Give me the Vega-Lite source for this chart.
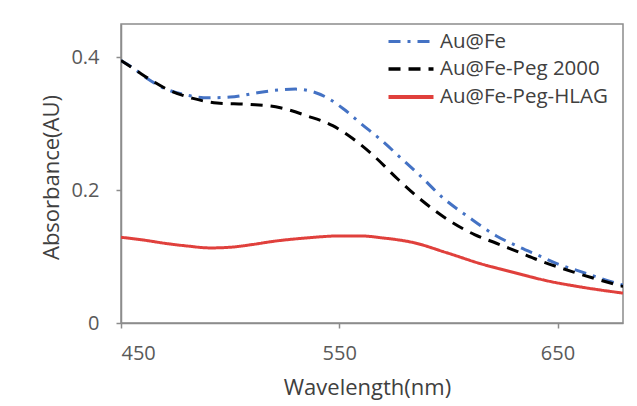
{
  "$schema": "https://vega.github.io/schema/vega-lite/v6.json",
  "width": 502,
  "height": 299,
  "autosize": "none",
  "padding": {"left": 121, "top": 24, "right": 14, "bottom": 83},
  "background": "white",
  "config": {
    "font": "Open Sans",
    "view": {"stroke": "#8c8c8c", "strokeWidth": 1.5},
    "axis": {
      "grid": false,
      "domainColor": "#8c8c8c",
      "domainWidth": 1.5,
      "tickColor": "#8c8c8c",
      "tickWidth": 1.5,
      "tickSize": 5,
      "labelColor": "#595959",
      "labelFontSize": 20,
      "labelFont": "Open Sans",
      "titleColor": "#404040",
      "titleFontSize": 22,
      "titleFont": "Open Sans",
      "titleFontWeight": "normal"
    },
    "legend": {
      "labelFont": "Open Sans",
      "labelFontSize": 20.5,
      "labelColor": "#404040",
      "labelLimit": 300
    }
  },
  "data": {
    "values": [
      {"wl": 450, "A": 0.395, "series": "Au@Fe"},
      {"wl": 455, "A": 0.385, "series": "Au@Fe"},
      {"wl": 462, "A": 0.368, "series": "Au@Fe"},
      {"wl": 470, "A": 0.353, "series": "Au@Fe"},
      {"wl": 480, "A": 0.343, "series": "Au@Fe"},
      {"wl": 490, "A": 0.339, "series": "Au@Fe"},
      {"wl": 500, "A": 0.340, "series": "Au@Fe"},
      {"wl": 510, "A": 0.345, "series": "Au@Fe"},
      {"wl": 520, "A": 0.350, "series": "Au@Fe"},
      {"wl": 530, "A": 0.352, "series": "Au@Fe"},
      {"wl": 538, "A": 0.348, "series": "Au@Fe"},
      {"wl": 545, "A": 0.338, "series": "Au@Fe"},
      {"wl": 552, "A": 0.322, "series": "Au@Fe"},
      {"wl": 560, "A": 0.300, "series": "Au@Fe"},
      {"wl": 570, "A": 0.273, "series": "Au@Fe"},
      {"wl": 578, "A": 0.249, "series": "Au@Fe"},
      {"wl": 586, "A": 0.225, "series": "Au@Fe"},
      {"wl": 598, "A": 0.187, "series": "Au@Fe"},
      {"wl": 609, "A": 0.160, "series": "Au@Fe"},
      {"wl": 622, "A": 0.131, "series": "Au@Fe"},
      {"wl": 632, "A": 0.115, "series": "Au@Fe"},
      {"wl": 641, "A": 0.102, "series": "Au@Fe"},
      {"wl": 650, "A": 0.089, "series": "Au@Fe"},
      {"wl": 661, "A": 0.077, "series": "Au@Fe"},
      {"wl": 670, "A": 0.067, "series": "Au@Fe"},
      {"wl": 680, "A": 0.057, "series": "Au@Fe"},
      {"wl": 450, "A": 0.395, "series": "Au@Fe-Peg 2000"},
      {"wl": 457, "A": 0.380, "series": "Au@Fe-Peg 2000"},
      {"wl": 464, "A": 0.365, "series": "Au@Fe-Peg 2000"},
      {"wl": 471, "A": 0.352, "series": "Au@Fe-Peg 2000"},
      {"wl": 483, "A": 0.338, "series": "Au@Fe-Peg 2000"},
      {"wl": 494, "A": 0.331, "series": "Au@Fe-Peg 2000"},
      {"wl": 509, "A": 0.329, "series": "Au@Fe-Peg 2000"},
      {"wl": 523, "A": 0.324, "series": "Au@Fe-Peg 2000"},
      {"wl": 535, "A": 0.312, "series": "Au@Fe-Peg 2000"},
      {"wl": 547, "A": 0.297, "series": "Au@Fe-Peg 2000"},
      {"wl": 556, "A": 0.278, "series": "Au@Fe-Peg 2000"},
      {"wl": 566, "A": 0.251, "series": "Au@Fe-Peg 2000"},
      {"wl": 577, "A": 0.216, "series": "Au@Fe-Peg 2000"},
      {"wl": 588, "A": 0.184, "series": "Au@Fe-Peg 2000"},
      {"wl": 600, "A": 0.155, "series": "Au@Fe-Peg 2000"},
      {"wl": 612, "A": 0.133, "series": "Au@Fe-Peg 2000"},
      {"wl": 622, "A": 0.120, "series": "Au@Fe-Peg 2000"},
      {"wl": 632, "A": 0.107, "series": "Au@Fe-Peg 2000"},
      {"wl": 641, "A": 0.095, "series": "Au@Fe-Peg 2000"},
      {"wl": 657, "A": 0.077, "series": "Au@Fe-Peg 2000"},
      {"wl": 668, "A": 0.066, "series": "Au@Fe-Peg 2000"},
      {"wl": 680, "A": 0.055, "series": "Au@Fe-Peg 2000"},
      {"wl": 450, "A": 0.129, "series": "Au@Fe-Peg-HLAG"},
      {"wl": 460, "A": 0.125, "series": "Au@Fe-Peg-HLAG"},
      {"wl": 470, "A": 0.120, "series": "Au@Fe-Peg-HLAG"},
      {"wl": 480, "A": 0.116, "series": "Au@Fe-Peg-HLAG"},
      {"wl": 491, "A": 0.113, "series": "Au@Fe-Peg-HLAG"},
      {"wl": 500, "A": 0.114, "series": "Au@Fe-Peg-HLAG"},
      {"wl": 510, "A": 0.118, "series": "Au@Fe-Peg-HLAG"},
      {"wl": 520, "A": 0.123, "series": "Au@Fe-Peg-HLAG"},
      {"wl": 535, "A": 0.128, "series": "Au@Fe-Peg-HLAG"},
      {"wl": 550, "A": 0.131, "series": "Au@Fe-Peg-HLAG"},
      {"wl": 560, "A": 0.131, "series": "Au@Fe-Peg-HLAG"},
      {"wl": 570, "A": 0.128, "series": "Au@Fe-Peg-HLAG"},
      {"wl": 584, "A": 0.121, "series": "Au@Fe-Peg-HLAG"},
      {"wl": 599, "A": 0.106, "series": "Au@Fe-Peg-HLAG"},
      {"wl": 615, "A": 0.089, "series": "Au@Fe-Peg-HLAG"},
      {"wl": 630, "A": 0.076, "series": "Au@Fe-Peg-HLAG"},
      {"wl": 646, "A": 0.063, "series": "Au@Fe-Peg-HLAG"},
      {"wl": 661, "A": 0.054, "series": "Au@Fe-Peg-HLAG"},
      {"wl": 680, "A": 0.045, "series": "Au@Fe-Peg-HLAG"}
    ]
  },
  "mark": {"type": "line", "interpolate": "monotone", "strokeWidth": 3, "clip": true},
  "encoding": {
    "x": {
      "field": "wl",
      "type": "quantitative",
      "scale": {"domain": [450, 680], "nice": false, "zero": false},
      "axis": {
        "values": [450, 550, 650],
        "title": "Wavelength(nm)",
        "labelPadding": 15,
        "titleX": 246,
        "titleY": 64,
        "titleBaseline": "middle",
        "titleAnchor": "middle"
      }
    },
    "y": {
      "field": "A",
      "type": "quantitative",
      "scale": {"domain": [0, 0.45], "nice": false},
      "axis": {
        "values": [0, 0.2, 0.4],
        "title": "Absorbance(AU)",
        "labelExpr": "datum.value == 0 ? '0' : format(datum.value, '.1f')",
        "labelPadding": 17,
        "titleX": -70,
        "titleY": 153,
        "titleAngle": -90,
        "titleBaseline": "middle",
        "titleAlign": "center"
      }
    },
    "color": {
      "field": "series",
      "type": "nominal",
      "scale": {
        "domain": ["Au@Fe", "Au@Fe-Peg 2000", "Au@Fe-Peg-HLAG"],
        "range": ["#4472c4", "#000000", "#e0403c"]
      },
      "legend": {
        "title": null,
        "orient": "none",
        "legendX": 273,
        "legendY": 1,
        "symbolType": "M-1.5,0H1.5",
        "symbolSize": 900,
        "symbolStrokeWidth": 3,
        "labelOffset": 12,
        "rowPadding": -2,
        "padding": 0
      }
    },
    "strokeDash": {
      "field": "series",
      "type": "nominal",
      "scale": {
        "domain": ["Au@Fe", "Au@Fe-Peg 2000", "Au@Fe-Peg-HLAG"],
        "range": [[12, 7, 3, 7], [12, 8], [1, 0]]
      },
      "legend": null
    },
    "strokeWidth": {
      "field": "series",
      "type": "nominal",
      "scale": {
        "domain": ["Au@Fe", "Au@Fe-Peg 2000", "Au@Fe-Peg-HLAG"],
        "range": [3, 4, 2]
      },
      "legend": null
    }
  }
}
